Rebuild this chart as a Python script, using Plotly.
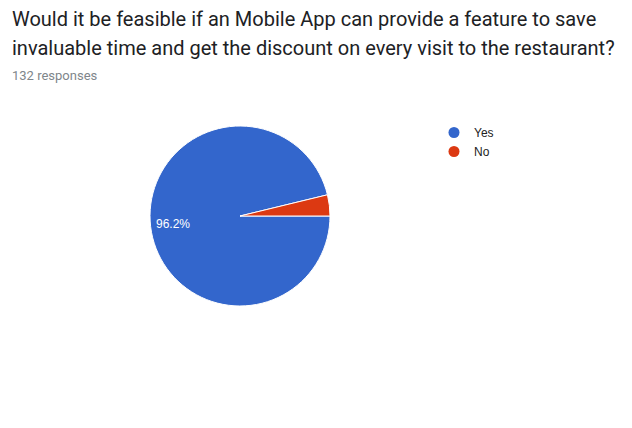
import math
import plotly.graph_objects as go

title_lines = ["Would it be feasible if an Mobile App can provide a feature to save",
               "invaluable time and get the discount on every visit to the restaurant?"]
subtitle = "132 responses"
labels = ["Yes", "No"]
values = [127, 5]
colors = ["#3366cc", "#dc3912"]

W, H = 632, 428
total = sum(values)

fig = go.Figure()
cx, cy, r = 240, 216, 90
fig.add_trace(go.Pie(
    labels=labels, values=values, sort=False, direction="clockwise", rotation=90,
    marker=dict(colors=colors, line=dict(color="white", width=1)),
    textinfo="none", hoverinfo="label+percent", showlegend=False,
    domain=dict(x=[(cx - r) / W, (cx + r) / W], y=[1 - (cy + r) / H, 1 - (cy - r) / H]),
))
for lab, col in zip(labels, colors):
    fig.add_trace(go.Scatter(x=[None], y=[None], mode="markers", name=lab,
                             marker=dict(color=col, size=11, symbol="circle")))

# slice labels (Google-style: placed at 0.75 radius along mid-angle, hidden for small slices)
label_annots = []
start = 0.0  # degrees clockwise from 3 o'clock
for v in values:
    frac = v / total
    mid = start + frac * 360 / 2
    start += frac * 360
    if frac > 0.05:
        a = math.radians(mid)
        px = cx + 0.75 * r * math.cos(a)
        py = cy + 0.75 * r * math.sin(a)
        label_annots.append(dict(
            text=f"{frac * 100:.1f}%", x=px / W, y=1 - py / H, xref="paper", yref="paper",
            xanchor="center", yanchor="middle", showarrow=False,
            font=dict(family="Liberation Sans, Arial", size=12, color="white")))

fig.update_layout(
    width=W, height=H, margin=dict(l=0, r=0, t=0, b=0),
    paper_bgcolor="white", plot_bgcolor="white",
    xaxis=dict(visible=False), yaxis=dict(visible=False),
    legend=dict(x=434 / W, y=1 - 118 / H, xanchor="left", yanchor="top",
                font=dict(family="Liberation Sans, Arial", size=12, color="#222222"),
                bgcolor="rgba(0,0,0,0)", tracegroupgap=0),
    annotations=[
        dict(text=title_lines[0], x=10 / W, y=1 - 28 / H, xref="paper", yref="paper",
             xanchor="left", yanchor="bottom", showarrow=False, yshift=-5,
             font=dict(family="Roboto", size=20, color="#202124")),
        dict(text=title_lines[1], x=10 / W, y=1 - 57 / H, xref="paper", yref="paper",
             xanchor="left", yanchor="bottom", showarrow=False, yshift=-5,
             font=dict(family="Roboto", size=20, color="#202124")),
        dict(text=subtitle, x=10 / W, y=1 - 81 / H, xref="paper", yref="paper",
             xanchor="left", yanchor="bottom", showarrow=False, yshift=-4,
             font=dict(family="Roboto", size=13, color="#80868b")),
    ] + label_annots,
)
fig.write_html("out.html")
